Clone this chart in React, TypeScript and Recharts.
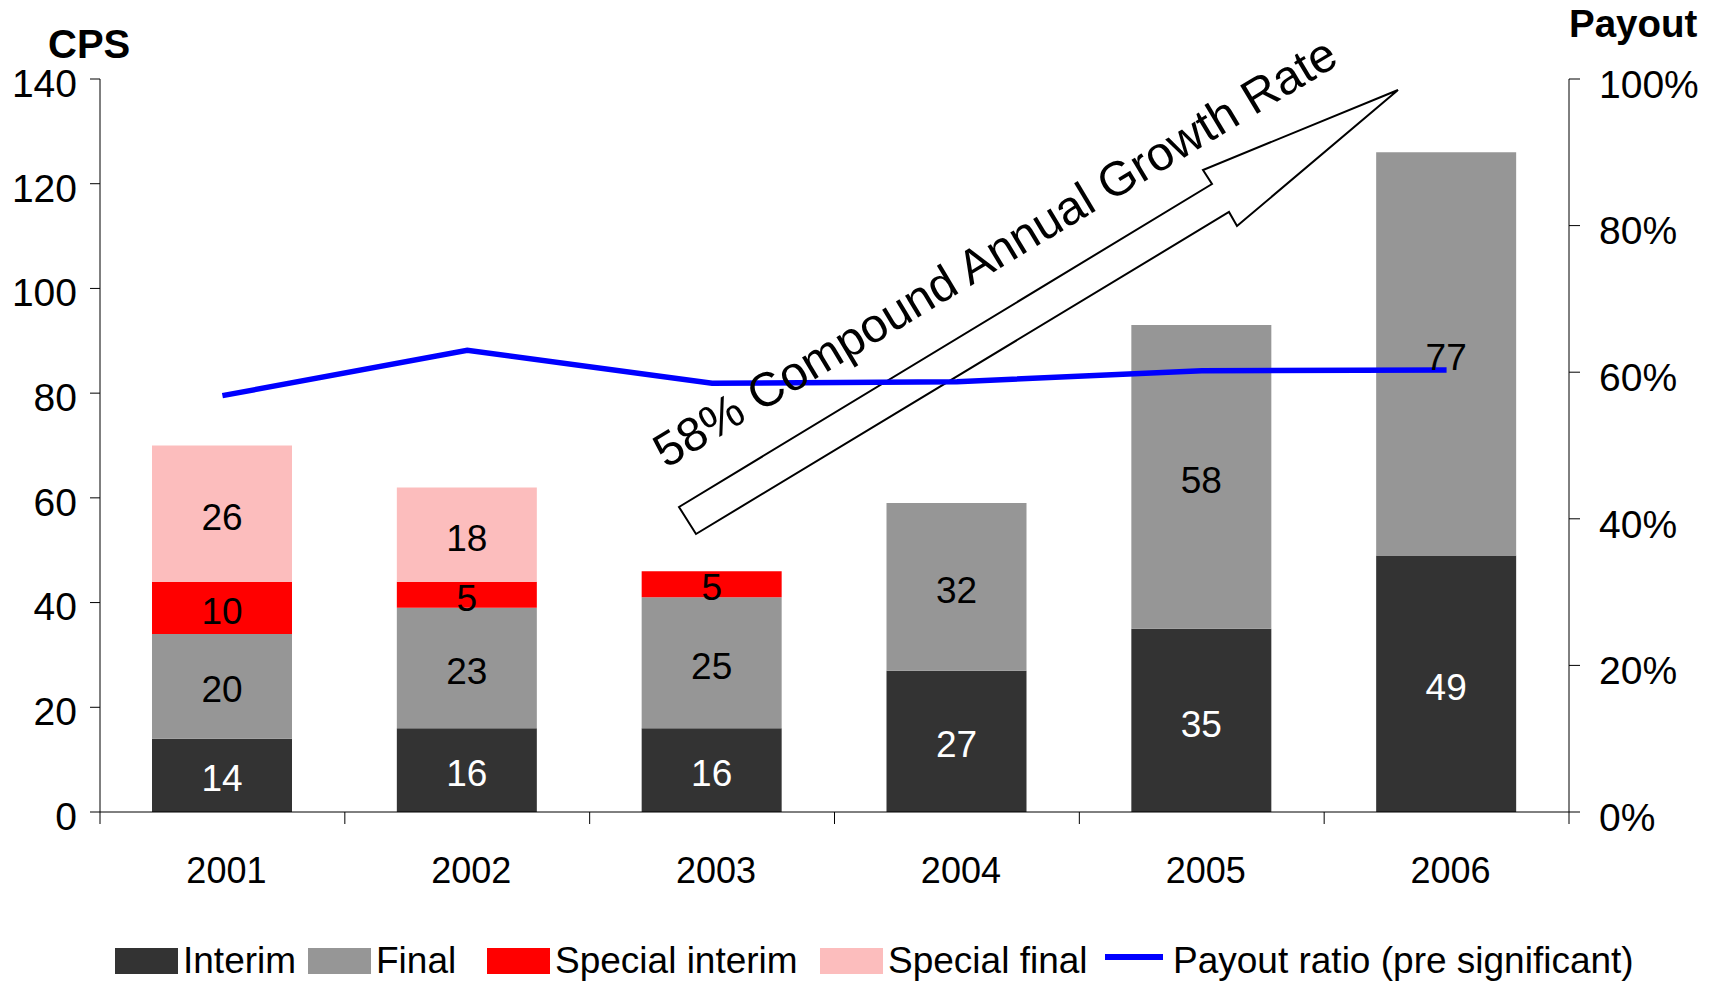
import { ComposedChart, Bar, Line, XAxis, YAxis, LabelList } from "recharts";

const years = ["2001", "2002", "2003", "2004", "2005", "2006"];
const interim = [14, 16, 16, 27, 35, 49];
const final = [20, 23, 25, 32, 58, 77];
const specialInterim = [10, 5, 5, 0, 0, 0];
const specialFinal = [26, 18, 0, 0, 0, 0];
const payoutRatio = [0.568, 0.63, 0.585, 0.587, 0.602, 0.603];
const cpsTicks = [0, 20, 40, 60, 80, 100, 120, 140];
const payoutTicks = [0, 0.2, 0.4, 0.6, 0.8, 1];

const W = 1719;
const H = 981;
const LEFT_W = 100;
const RIGHT_W = 150;
const TOP = 79;
const X_AXIS_H = 169;
const BAND = (W - LEFT_W - RIGHT_W) / years.length;
const FONT = '"Liberation Sans", Arial, sans-serif';

const stacks = [
  { key: "interim", name: "Interim", color: "#333333", text: "#ffffff", values: interim },
  { key: "final", name: "Final", color: "#969696", text: "#000000", values: final },
  { key: "specialInterim", name: "Special interim", color: "#ff0000", text: "#000000", values: specialInterim },
  { key: "specialFinal", name: "Special final", color: "#fcbdbd", text: "#000000", values: specialFinal },
];

const data = years.map((year, i) => ({
  year,
  interim: interim[i],
  final: final[i],
  specialInterim: specialInterim[i],
  specialFinal: specialFinal[i],
  payout: payoutRatio[i],
}));

// legend swatch left edges
const LEGEND_LEFT = [115, 308, 487, 820, 1105];

// arrow outline: tip, upper barb, upper notch, tail, lower notch, lower barb
const ARROW = "1398,90 1203,170 1212,184 679,507 696,534 1229,212 1237,226";

const segLabel = (values: number[], color: string) => (p: any) => {
  const v = values[p.index];
  if (!v) return null;
  const vb = p.viewBox ?? p;
  const cx = vb.x + vb.width / 2;
  const cy = vb.y + vb.height / 2;
  return (
    <text x={cx} y={cy + 3} dy="0.355em" textAnchor="middle" fontSize={37} fontFamily={FONT} fill={color}>
      {v}
    </text>
  );
};

const LeftTick = (p: any) => (
  <text x={p.x} y={p.y + 4} dy="0.355em" textAnchor="end" fontSize={39} fontFamily={FONT} fill="#000">
    {p.payload.value}
  </text>
);

const RightTick = (p: any) => (
  <text x={p.x} y={p.y + 5} dy="0.355em" textAnchor="start" fontSize={39} fontFamily={FONT} fill="#000">
    {Math.round(p.payload.value * 100)}%
  </text>
);

// category ticks sit on the band boundaries, labels in the middle
const YearTick = (p: any) => {
  const last = p.index === years.length - 1;
  return (
    <g>
      <line x1={p.x - BAND / 2} x2={p.x - BAND / 2} y1={p.y} y2={p.y + 12} stroke="#000" />
      {last && <line x1={p.x + BAND / 2} x2={p.x + BAND / 2} y1={p.y} y2={p.y + 12} stroke="#000" />}
      <text x={p.x + 4} y={p.y + 58} dy="0.355em" textAnchor="middle" fontSize={36} fontFamily={FONT} fill="#000">
        {p.payload.value}
      </text>
    </g>
  );
};

export default function App() {
  return (
    <div style={{ position: "relative", width: W, height: H, fontFamily: FONT }}>
      <style>{`body { margin: 0; }`}</style>

      <svg width={W} height={H} style={{ position: "absolute", left: 0, top: 0 }}>
        <polygon points={ARROW} fill="#fff" stroke="#000" strokeWidth={2} strokeLinejoin="miter" />
      </svg>

      <div style={{ position: "absolute", left: 0, top: 0 }}>
        <ComposedChart width={W} height={H} data={data} margin={{ top: TOP, right: 0, bottom: 0, left: 0 }}>
          <XAxis
            dataKey="year"
            height={X_AXIS_H}
            tickLine={false}
            tickSize={0}
            tickMargin={0}
            interval={0}
            axisLine={{ stroke: "#000" }}
            tick={<YearTick />}
          />
          <YAxis
            yAxisId="cps"
            width={LEFT_W}
            domain={[0, 140]}
            ticks={cpsTicks}
            interval={0}
            tickSize={10}
            tickMargin={13}
            axisLine={{ stroke: "#000" }}
            tickLine={{ stroke: "#000" }}
            tick={<LeftTick />}
          />
          <YAxis
            yAxisId="payout"
            orientation="right"
            width={RIGHT_W}
            domain={[0, 1]}
            ticks={payoutTicks}
            interval={0}
            tickSize={11}
            tickMargin={19}
            axisLine={{ stroke: "#000" }}
            tickLine={{ stroke: "#000" }}
            tick={<RightTick />}
          />
          {stacks.map((s) => (
            <Bar key={s.key} yAxisId="cps" dataKey={s.key} name={s.name} stackId="cps" fill={s.color} barSize={140} isAnimationActive={false}>
              <LabelList dataKey={s.key} content={segLabel(s.values, s.text)} />
            </Bar>
          ))}
          <Line
            yAxisId="payout"
            dataKey="payout"
            name="Payout ratio (pre significant)"
            stroke="#0000ff"
            strokeWidth={5.5}
            dot={false}
            activeDot={false}
            isAnimationActive={false}
          />
        </ComposedChart>
      </div>

      <svg width={W} height={H} style={{ position: "absolute", left: 0, top: 0, pointerEvents: "none" }}>
        <text x={48} y={58} fontSize={40} fontWeight="bold" fontFamily={FONT}>CPS</text>
        <text x={1569} y={37} fontSize={38.5} fontWeight="bold" fontFamily={FONT}>Payout</text>
        <text x={666} y={469} fontSize={48} fontFamily={FONT} transform="rotate(-31 666 469)">
          58% Compound Annual Growth Rate
        </text>

        {stacks.map((s, i) => (
          <g key={s.key}>
            <rect x={LEGEND_LEFT[i]} y={948} width={63} height={26} fill={s.color} />
            <text x={LEGEND_LEFT[i] + 68} y={973} fontSize={37} fontFamily={FONT}>{s.name}</text>
          </g>
        ))}
        <line x1={LEGEND_LEFT[4]} x2={LEGEND_LEFT[4] + 58} y1={957} y2={957} stroke="#0000ff" strokeWidth={6} />
        <text x={LEGEND_LEFT[4] + 68} y={973} fontSize={37} fontFamily={FONT}>Payout ratio (pre significant)</text>
      </svg>
    </div>
  );
}
